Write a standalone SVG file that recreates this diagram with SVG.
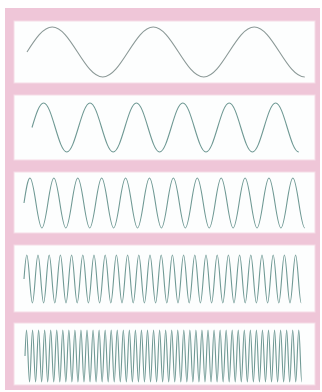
<svg xmlns="http://www.w3.org/2000/svg" width="322" height="392" viewBox="0 0 322 392">
<style>
.frame{fill:#efc6d8}
.panel{fill:#fdfefe;stroke:#f6dbe6;stroke-width:1}
.wave{fill:none;stroke:#6f9994;stroke-width:1.1;stroke-linejoin:round}
.w1{stroke:#8b9997}
</style>
<rect x="0" y="0" width="322" height="392" fill="#ffffff"/>
<rect class="frame" x="5" y="8" width="315" height="382"/>
<g id="panel1">
<rect class="panel" x="14" y="21" width="301" height="62"/>
<path class="wave w1" d="M27,52 C35.23,39.19 43.11,27 52.25,27 c18.35,0 32.15,50 50.5,50 s32.15,-50 50.5,-50 s32.15,50 50.5,50 s32.15,-50 50.5,-50 s32.15,50 50.5,50"/>
</g>
<g id="panel2">
<rect class="panel" x="14" y="95" width="301" height="65"/>
<path class="wave" d="M32,127.5 C35.78,114.95 39.40,103 43.6,103 c8.43,0 14.77,49 23.2,49
s14.77,-49 23.2,-49 s14.77,49 23.2,49 s14.77,-49 23.2,-49 s14.77,49 23.2,49
s14.77,-49 23.2,-49 s14.77,49 23.2,49 s14.77,-49 23.2,-49 s14.77,49 23.2,49
s14.77,-49 23.2,-49 s14.77,49 23.2,49"/>
</g>
<g id="panel3">
<rect class="panel" x="14" y="172" width="301" height="61"/>
<path class="wave" d="M24,203 C25.95,190.19 27.81,178 29.975,178 c4.34,0 7.61,50 11.95,50
s7.61,-50 11.95,-50 s7.61,50 11.95,50 s7.61,-50 11.95,-50 s7.61,50 11.95,50
s7.61,-50 11.95,-50 s7.61,50 11.95,50 s7.61,-50 11.95,-50 s7.61,50 11.95,50
s7.61,-50 11.95,-50 s7.61,50 11.95,50 s7.61,-50 11.95,-50 s7.61,50 11.95,50
s7.61,-50 11.95,-50 s7.61,50 11.95,50 s7.61,-50 11.95,-50 s7.61,50 11.95,50
s7.61,-50 11.95,-50 s7.61,50 11.95,50 s7.61,-50 11.95,-50 s7.61,50 11.95,50
s7.61,-50 11.95,-50 s7.61,50 11.95,50"/>
</g>
<g id="panel4">
<rect class="panel" x="14" y="245" width="301" height="67"/>
<path class="wave" d="M24,279 C24.91,266.7 25.79,255 26.8,255 c2.035,0 3.565,48 5.6,48
s3.565,-48 5.6,-48 s3.565,48 5.6,48 s3.565,-48 5.6,-48 s3.565,48 5.6,48 s3.565,-48 5.6,-48 s3.565,48 5.6,48 s3.565,-48 5.6,-48 s3.565,48 5.6,48
s3.565,-48 5.6,-48 s3.565,48 5.6,48 s3.565,-48 5.6,-48 s3.565,48 5.6,48 s3.565,-48 5.6,-48 s3.565,48 5.6,48 s3.565,-48 5.6,-48 s3.565,48 5.6,48
s3.565,-48 5.6,-48 s3.565,48 5.6,48 s3.565,-48 5.6,-48 s3.565,48 5.6,48 s3.565,-48 5.6,-48 s3.565,48 5.6,48 s3.565,-48 5.6,-48 s3.565,48 5.6,48
s3.565,-48 5.6,-48 s3.565,48 5.6,48 s3.565,-48 5.6,-48 s3.565,48 5.6,48 s3.565,-48 5.6,-48 s3.565,48 5.6,48 s3.565,-48 5.6,-48 s3.565,48 5.6,48
s3.565,-48 5.6,-48 s3.565,48 5.6,48 s3.565,-48 5.6,-48 s3.565,48 5.6,48 s3.565,-48 5.6,-48 s3.565,48 5.6,48 s3.565,-48 5.6,-48 s3.565,48 5.6,48
s3.565,-48 5.6,-48 s3.565,48 5.6,48 s3.565,-48 5.6,-48 s3.565,48 5.6,48 s3.565,-48 5.6,-48 s3.565,48 5.6,48 s3.565,-48 5.6,-48 s3.565,48 5.6,48"/>
</g>
<g id="panel5">
<rect class="panel" x="14" y="323" width="301" height="62"/>
<path class="wave" d="M25,356 C25.49,342.68 25.97,330 26.51,330 c1.099,0 1.926,52 3.025,52
s1.926,-52 3.025,-52 s1.926,52 3.025,52 s1.926,-52 3.025,-52 s1.926,52 3.025,52 s1.926,-52 3.025,-52 s1.926,52 3.025,52 s1.926,-52 3.025,-52 s1.926,52 3.025,52 s1.926,-52 3.025,-52 s1.926,52 3.025,52
s1.926,-52 3.025,-52 s1.926,52 3.025,52 s1.926,-52 3.025,-52 s1.926,52 3.025,52 s1.926,-52 3.025,-52 s1.926,52 3.025,52 s1.926,-52 3.025,-52 s1.926,52 3.025,52 s1.926,-52 3.025,-52 s1.926,52 3.025,52
s1.926,-52 3.025,-52 s1.926,52 3.025,52 s1.926,-52 3.025,-52 s1.926,52 3.025,52 s1.926,-52 3.025,-52 s1.926,52 3.025,52 s1.926,-52 3.025,-52 s1.926,52 3.025,52 s1.926,-52 3.025,-52 s1.926,52 3.025,52
s1.926,-52 3.025,-52 s1.926,52 3.025,52 s1.926,-52 3.025,-52 s1.926,52 3.025,52 s1.926,-52 3.025,-52 s1.926,52 3.025,52 s1.926,-52 3.025,-52 s1.926,52 3.025,52 s1.926,-52 3.025,-52 s1.926,52 3.025,52
s1.926,-52 3.025,-52 s1.926,52 3.025,52 s1.926,-52 3.025,-52 s1.926,52 3.025,52 s1.926,-52 3.025,-52 s1.926,52 3.025,52 s1.926,-52 3.025,-52 s1.926,52 3.025,52 s1.926,-52 3.025,-52 s1.926,52 3.025,52
s1.926,-52 3.025,-52 s1.926,52 3.025,52 s1.926,-52 3.025,-52 s1.926,52 3.025,52 s1.926,-52 3.025,-52 s1.926,52 3.025,52 s1.926,-52 3.025,-52 s1.926,52 3.025,52 s1.926,-52 3.025,-52 s1.926,52 3.025,52
s1.926,-52 3.025,-52 s1.926,52 3.025,52 s1.926,-52 3.025,-52 s1.926,52 3.025,52 s1.926,-52 3.025,-52 s1.926,52 3.025,52 s1.926,-52 3.025,-52 s1.926,52 3.025,52 s1.926,-52 3.025,-52 s1.926,52 3.025,52
s1.926,-52 3.025,-52 s1.926,52 3.025,52 s1.926,-52 3.025,-52 s1.926,52 3.025,52 s1.926,-52 3.025,-52 s1.926,52 3.025,52 s1.926,-52 3.025,-52 s1.926,52 3.025,52 s1.926,-52 3.025,-52 s1.926,52 3.025,52
s1.926,-52 3.025,-52 s1.926,52 3.025,52 s1.926,-52 3.025,-52 s1.926,52 3.025,52 s1.926,-52 3.025,-52 s1.926,52 3.025,52 s1.926,-52 3.025,-52 s1.926,52 3.025,52 s1.926,-52 3.025,-52 s1.926,52 3.025,52"/>
</g>
</svg>
